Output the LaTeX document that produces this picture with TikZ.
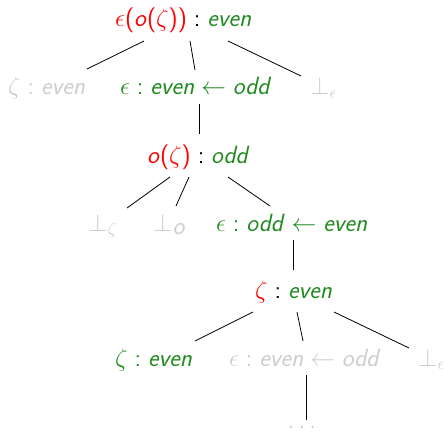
\documentclass[tikz,border=0pt]{standalone}
\usepackage{xcolor}
\definecolor{tred}{RGB}{255,0,0}
\definecolor{tgreen}{RGB}{34,139,34}
\definecolor{tgray}{RGB}{205,205,205}
\newcommand\ty[1]{\textsf{\textit{#1}}}
\begin{document}
\begin{tikzpicture}[x=1pt,y=-1pt,
  lbl/.style={anchor=base west,inner sep=0pt,font=\fontsize{25}{30}\selectfont},
  edge/.style={draw=black,line width=0.8pt}]
\useasboundingbox (0,0) rectangle (444,433);
\node[lbl] (root) at (115,27) {${\color{tred}\epsilon\textsf{(}\ty{o}\textsf{(}\zeta\textsf{))}} \mathrel{\textsf{:}} {\color{tgreen}\ty{even}}$};
\node[lbl,text=tgray] (a1) at (8,95) {$\zeta \mathrel{\textsf{:}} \ty{even}$};
\node[lbl,text=tgreen] (a2) at (120,95) {$\epsilon \mathrel{\textsf{:}} \ty{even} \leftarrow \ty{odd}$};
\node[lbl,text=tgray] (a3) at (310,95) {$\bot_\epsilon$};
\node[lbl] (b) at (147,163) {${\color{tred}\ty{o}\textsf{(}\zeta\textsf{)}} \mathrel{\textsf{:}} {\color{tgreen}\ty{odd}}$};
\node[lbl,text=tgray] (c1) at (88,231) {$\bot_\zeta$};
\node[lbl,text=tgray] (c2) at (153,231) {$\bot_{\ty{o}}$};
\node[lbl,text=tgreen] (c3) at (216,231) {$\epsilon \mathrel{\textsf{:}} \ty{odd} \leftarrow \ty{even}$};
\node[lbl] (d) at (255,298) {${\color{tred}\zeta} \mathrel{\textsf{:}} {\color{tgreen}\ty{even}}$};
\node[lbl,text=tgreen] (e1) at (115,366) {$\zeta \mathrel{\textsf{:}} \ty{even}$};
\node[lbl,text=tgray] (e2) at (229,366) {$\epsilon \mathrel{\textsf{:}} \ty{even} \leftarrow \ty{odd}$};
\node[lbl,text=tgray] (e3) at (418,366) {$\bot_\epsilon$};
\node[lbl,anchor=base,text=tgray,text height=3pt,text depth=0pt] (f) at (302,428) {$\ldots$};
\path[edge] ([shift={(29,14)}]root.base west) -- ([shift={(79,-26)}]a1.base west);
\path[edge] ([shift={(75,14)}]root.base west) -- ([shift={(75,-25)}]a2.base west);
\path[edge] ([shift={(113,14)}]root.base west) -- ([shift={(-9,-19)}]a3.base west);
\path[edge] ([shift={(79,9)}]a2.base west) -- ([shift={(52,-29)}]b.base west);
\path[edge] ([shift={(23,14)}]b.base west) -- ([shift={(39,-23)}]c1.base west);
\path[edge] ([shift={(42,14)}]b.base west) -- ([shift={(23,-25)}]c2.base west);
\path[edge] ([shift={(81,14)}]b.base west) -- ([shift={(54,-25)}]c3.base west);
\path[edge] ([shift={(77,9)}]c3.base west) -- ([shift={(38,-28)}]d.base west);
\path[edge] ([shift={(-2,14)}]d.base west) -- ([shift={(80,-25)}]e1.base west);
\path[edge] ([shift={(42,14)}]d.base west) -- ([shift={(74,-25)}]e2.base west);
\path[edge] ([shift={(79,14)}]d.base west) -- ([shift={(-9,-18)}]e3.base west);
\path[edge] ([shift={(77,9)}]e2.base west) -- ([shift={(4,-8)}]f.base);
\end{tikzpicture}
\end{document}
